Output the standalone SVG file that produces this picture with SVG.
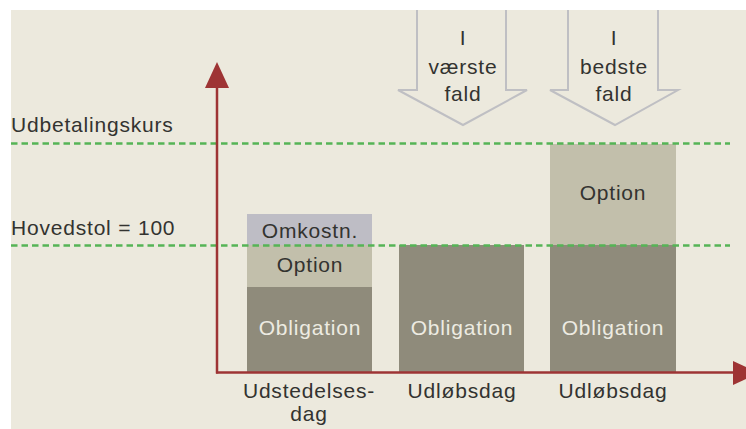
<svg xmlns="http://www.w3.org/2000/svg" width="746" height="429" viewBox="0 0 746 429">
<style>
text{font-family:"Liberation Sans",Arial,sans-serif;font-size:21px;letter-spacing:0.8px}
.dk{fill:#333330}
.wt{fill:#EDEBE2}
.mid{text-anchor:middle}
.obl{fill:#8F8B7B}
.opt{fill:#C2BFAB}
.omk{fill:#BEBDC5}
.dash{stroke:#55B456;stroke-width:2.4;stroke-dasharray:6.5 4;fill:none}
.axis{stroke:#9E3434;stroke-width:2.5;fill:none}
.blk{fill:#ECE9DD;stroke:#BFBFC3;stroke-width:2}
</style>
<rect x="0" y="0" width="746" height="429" fill="#ffffff"/>
<rect x="11" y="10" width="735" height="419" fill="#ECE9DD"/>

<g id="label-udbetaling"><text class="dk" x="11" y="132">Udbetalingskurs</text></g>
<g id="label-hovedstol"><text class="dk" x="11" y="235">Hovedstol = 100</text></g>

<g id="bar-udstedelse">
<rect class="obl" x="247" y="287" width="125" height="85"/>
<rect class="opt" x="247" y="245" width="125" height="42"/>
<rect class="omk" x="247" y="214" width="125" height="31"/>
<text class="dk mid" x="310" y="238">Omkostn.</text>
<text class="dk mid" x="310" y="272">Option</text>
<text class="wt mid" x="310" y="335">Obligation</text>
</g>
<g id="bar-vaerste">
<rect class="obl" x="399" y="245" width="125" height="127"/>
<text class="wt mid" x="462" y="335">Obligation</text>
</g>
<g id="bar-bedste">
<rect class="obl" x="550" y="245" width="126" height="127"/>
<rect class="opt" x="550" y="144" width="126" height="101"/>
<text class="dk mid" x="613" y="200">Option</text>
<text class="wt mid" x="613" y="335">Obligation</text>
</g>

<g id="arrow-vaerste">
<path class="blk" d="M417,10 V90 H398 L463,125 L527,90 H506 V10"/>
<text class="dk mid" x="463" y="45">I</text>
<text class="dk mid" x="463" y="74">værste</text>
<text class="dk mid" x="463" y="101">fald</text>
</g>
<g id="arrow-bedste">
<path class="blk" d="M568,10 V90 H550 L615,125 L678,90 H658 V10"/>
<text class="dk mid" x="614" y="45">I</text>
<text class="dk mid" x="614" y="74">bedste</text>
<text class="dk mid" x="614" y="101">fald</text>
</g>

<g id="connectors">
<line class="dash" x1="11" y1="143.5" x2="730" y2="143.5"/>
<line class="dash" x1="11" y1="245.5" x2="730" y2="245.5"/>
<line class="axis" x1="217" y1="86" x2="217" y2="373.5"/>
<line class="axis" x1="216" y1="372.5" x2="736" y2="372.5"/>
<polygon fill="#9E3434" points="217,62 205,88 229,88"/>
<polygon fill="#9E3434" points="759,373 733,361 733,385"/>
</g>

<g id="axis-labels">
<text class="dk mid" x="309" y="398">Udstedelses-</text>
<text class="dk mid" x="309" y="421">dag</text>
<text class="dk mid" x="462" y="398">Udløbsdag</text>
<text class="dk mid" x="613" y="398">Udløbsdag</text>
</g>
</svg>
